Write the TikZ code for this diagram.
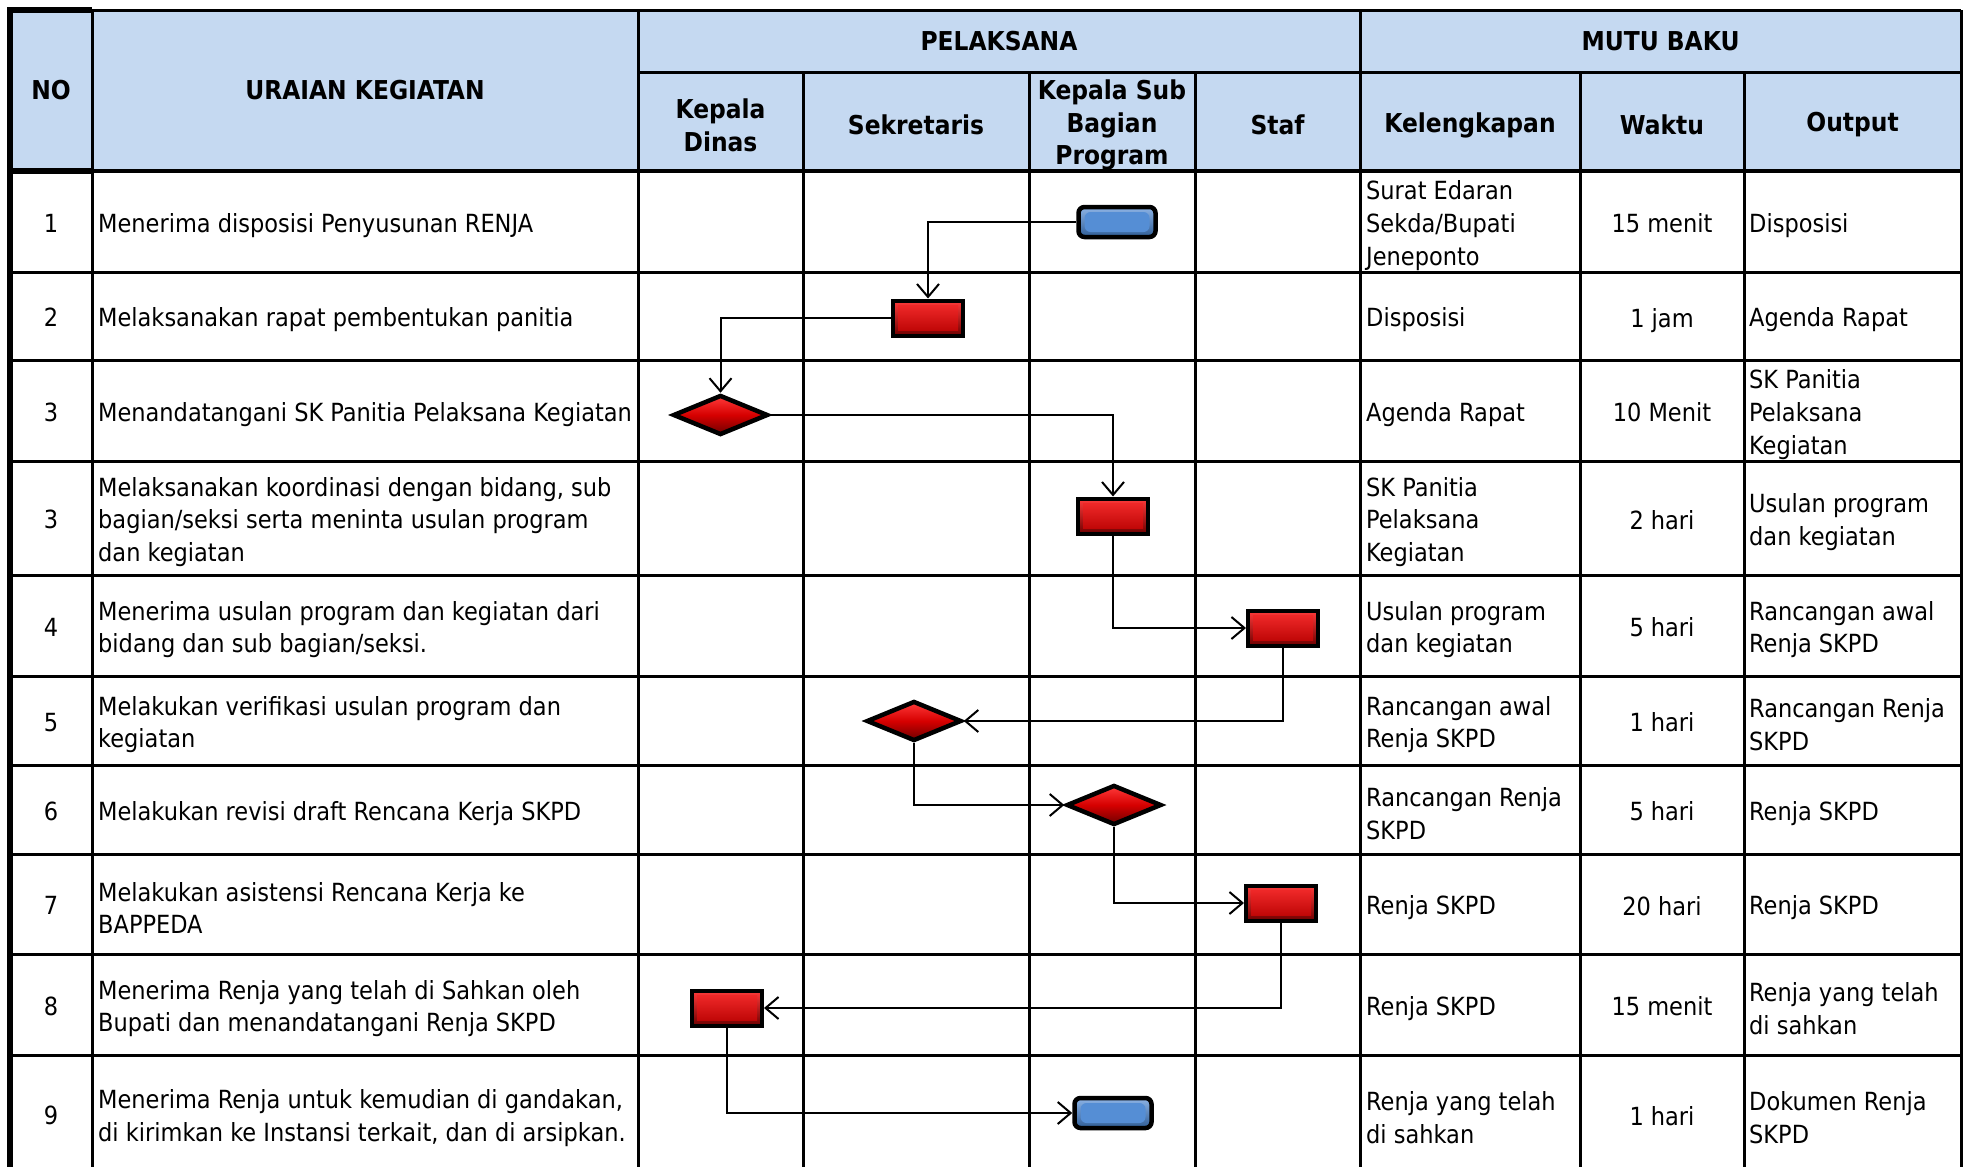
\documentclass[tikz,border=0pt]{standalone}
\usepackage{fontspec}
\setmainfont{DejaVu Sans Condensed}
\usetikzlibrary{shapes.geometric,arrows.meta,positioning}
\definecolor{headblue}{HTML}{C5D9F1}
\definecolor{redlight}{HTML}{FF3A3A}
\definecolor{redmid}{HTML}{D60000}
\definecolor{reddark}{HTML}{6E0000}
\definecolor{bluelight}{HTML}{8DB4E6}
\definecolor{bluemid}{HTML}{558ED5}
\definecolor{bluedark}{HTML}{2F5D96}

\begin{document}
\begin{tikzpicture}[
        x=1pt, y=-1pt,
        grid/.style={line width=3pt, black},
        isi/.style={font=\fontsize{25}{32.7}\selectfont, inner sep=0pt, align=left, anchor=west, yshift=-4pt},
        tengah/.style={isi, anchor=center, align=center, text depth=5pt},
        judul/.style={font=\fontsize{26}{32.7}\selectfont\bfseries, inner sep=0pt, align=center},
        proses/.style={rectangle, draw=black, line width=4pt, minimum width=70pt, minimum height=35pt,
            inner sep=0pt, top color=redlight, bottom color=reddark,
            path picture={\fill[top color=redlight!80!redmid, bottom color=redmid!85!black]
                ([xshift=5pt,yshift=-5pt]path picture bounding box.north west) rectangle
                ([xshift=-5pt,yshift=5pt]path picture bounding box.south east);}},
        keputusan/.style={diamond, draw=black, line width=4.5pt, minimum width=95pt, minimum height=40pt,
            inner sep=0pt, top color=redlight, bottom color=reddark, middle color=redmid},
        terminal/.style={rectangle, rounded corners=6pt, draw=black, line width=4.5pt, minimum width=77pt,
            minimum height=30pt, inner sep=0pt, top color=bluelight, bottom color=bluedark,
            path picture={\fill[bluemid]
                ([xshift=6pt,yshift=-5pt]path picture bounding box.north west) rectangle
                ([xshift=-6pt,yshift=5pt]path picture bounding box.south east);}},
        alur/.style={line width=2pt, -{Straight Barb[length=13pt, width=22pt, line width=2pt]}}
    ]
    \useasboundingbox (0,0) rectangle (1974,1167);
    \clip (0,0) rectangle (1974,1167);

    % HEADER
    \fill[headblue] (10,10) rectangle (1961,171);
    \draw[grid] (10,10) -- (1961,10);
    \draw[grid] (638,72) -- (1961,72);
    \draw[line width=4pt] (10,171) -- (1961,171);
    \foreach \y in {272,360,461,575,676,765,854,954,1055}
        \draw[grid] (10,\y) -- (1961,\y);
    \foreach \x in {92,638,1360,1961}
        \draw[grid] (\x,10) -- (\x,1167);
    \foreach \x in {803,1029,1195,1580,1744}
        \draw[grid] (\x,72) -- (\x,1167);
    \draw[line width=6pt] (10,1167) -- (10,10) -- (92,10);
    \draw[line width=6pt] (10,171) -- (92,171);

    \node[judul] (hNo) at (51,90.5) {NO};
    \node[judul] (hUraian) at (365,90.5) {URAIAN KEGIATAN};
    \node[judul] (hPelaksana) at (999,41) {PELAKSANA};
    \node[judul] (hMutu) at (1660.5,41) {MUTU BAKU};
    \node[judul] (hKadis) at (720.5,125) {Kepala\\Dinas};
    \node[judul] (hSekre) at (916,125) {Sekretaris};
    \node[judul] (hKasub) at (1112,125) {Kepala Sub\\Bagian\\Program};
    \node[judul] (hStaf) at (1277.5,125) {Staf};
    \node[judul] (hLengkap) at (1470,125) {Kelengkapan};
    \node[judul] (hWaktu) at (1662,125) {Waktu};
    \node[judul] (hOutput) at (1852.5,125) {Output};

    % ROW 1
    \node[tengah] (no1) at (51,221.5) {1};
    \node[isi] (ur1) at (98,221.5) {Menerima disposisi Penyusunan RENJA};
    \node[isi] (kl1) at (1366,221.5) {Surat Edaran\\Sekda/Bupati\\Jeneponto};
    \node[tengah] (wk1) at (1662,221.5) {15 menit};
    \node[isi] (op1) at (1749,221.5) {Disposisi};
    % ROW 2
    \node[tengah] (no2) at (51,316) {2};
    \node[isi] (ur2) at (98,316) {Melaksanakan rapat pembentukan panitia};
    \node[isi] (kl2) at (1366,316) {Disposisi};
    \node[tengah] (wk2) at (1662,316) {1 jam};
    \node[isi] (op2) at (1749,316) {Agenda Rapat};
    % ROW 3
    \node[tengah] (no3) at (51,410.5) {3};
    \node[isi] (ur3) at (98,410.5) {Menandatangani SK Panitia Pelaksana Kegiatan};
    \node[isi] (kl3) at (1366,410.5) {Agenda Rapat};
    \node[tengah] (wk3) at (1662,410.5) {10 Menit};
    \node[isi] (op3) at (1749,410.5) {SK Panitia\\Pelaksana\\Kegiatan};
    % ROW 4
    \node[tengah] (no4) at (51,518) {3};
    \node[isi] (ur4) at (98,518) {Melaksanakan koordinasi dengan bidang, sub\\bagian/seksi serta meninta usulan program\\dan kegiatan};
    \node[isi] (kl4) at (1366,518) {SK Panitia\\Pelaksana\\Kegiatan};
    \node[tengah] (wk4) at (1662,518) {2 hari};
    \node[isi] (op4) at (1749,518) {Usulan program\\dan kegiatan};
    % ROW 5
    \node[tengah] (no5) at (51,625.5) {4};
    \node[isi] (ur5) at (98,625.5) {Menerima usulan program dan kegiatan dari\\bidang dan sub bagian/seksi.};
    \node[isi] (kl5) at (1366,625.5) {Usulan program\\dan kegiatan};
    \node[tengah] (wk5) at (1662,625.5) {5 hari};
    \node[isi] (op5) at (1749,625.5) {Rancangan awal\\Renja SKPD};
    % ROW 6
    \node[tengah] (no6) at (51,720.5) {5};
    \node[isi] (ur6) at (98,720.5) {Melakukan verifikasi usulan program dan\\kegiatan};
    \node[isi] (kl6) at (1366,720.5) {Rancangan awal\\Renja SKPD};
    \node[tengah] (wk6) at (1662,720.5) {1 hari};
    \node[isi] (op6) at (1749,720.5) {Rancangan Renja\\SKPD};
    % ROW 7
    \node[tengah] (no7) at (51,809.5) {6};
    \node[isi] (ur7) at (98,809.5) {Melakukan revisi draft Rencana Kerja SKPD};
    \node[isi] (kl7) at (1366,809.5) {Rancangan Renja\\SKPD};
    \node[tengah] (wk7) at (1662,809.5) {5 hari};
    \node[isi] (op7) at (1749,809.5) {Renja SKPD};
    % ROW 8
    \node[tengah] (no8) at (51,904) {7};
    \node[isi] (ur8) at (98,904) {Melakukan asistensi Rencana Kerja ke\\BAPPEDA};
    \node[isi] (kl8) at (1366,904) {Renja SKPD};
    \node[tengah] (wk8) at (1662,904) {20 hari};
    \node[isi] (op8) at (1749,904) {Renja SKPD};
    % ROW 9
    \node[tengah] (no9) at (51,1004.5) {8};
    \node[isi] (ur9) at (98,1004.5) {Menerima Renja yang telah di Sahkan oleh\\Bupati dan menandatangani Renja SKPD};
    \node[isi] (kl9) at (1366,1004.5) {Renja SKPD};
    \node[tengah] (wk9) at (1662,1004.5) {15 menit};
    \node[isi] (op9) at (1749,1004.5) {Renja yang telah\\di sahkan};
    % ROW 10
    \node[tengah] (no10) at (51,1114) {9};
    \node[isi] (ur10) at (98,1114) {Menerima Renja untuk kemudian di gandakan,\\di kirimkan ke Instansi terkait, dan di arsipkan.};
    \node[isi] (kl10) at (1366,1114) {Renja yang telah\\di sahkan};
    \node[tengah] (wk10) at (1662,1114) {1 hari};
    \node[isi] (op10) at (1749,1114) {Dokumen Renja\\SKPD};

    % SHAPES
    \node[terminal] (mulai) at (1117,222) {};
    \node[proses] (rapat) at (928,318) {};
    \node[keputusan] (sk) at (720.5,415) {};
    \node[proses] (koordinasi) at (1113,516) {};
    \node[proses] (usulan) at (1283,628) {};
    \node[keputusan] (verifikasi) at (914,721) {};
    \node[keputusan] (revisi) at (1114,805) {};
    \node[proses] (asistensi) at (1281,903) {};
    \node[proses] (renja) at (727,1008) {};
    \node[terminal] (arsip) at (1113,1113) {};

    % ARROWS
    \draw[alur] (mulai.west) -| (rapat.north);
    \draw[alur] (rapat.west) -| (sk.north);
    \draw[alur] (sk.east) -| (koordinasi.north);
    \draw[alur] (koordinasi.south) |- (usulan.west);
    \draw[alur] (usulan.south) |- (verifikasi.east);
    \draw[alur] (verifikasi.south) |- (revisi.west);
    \draw[alur] (revisi.south) |- (asistensi.west);
    \draw[alur] (asistensi.south) |- (renja.east);
    \draw[alur] (renja.south) |- (arsip.west);
\end{tikzpicture}
\end{document}
